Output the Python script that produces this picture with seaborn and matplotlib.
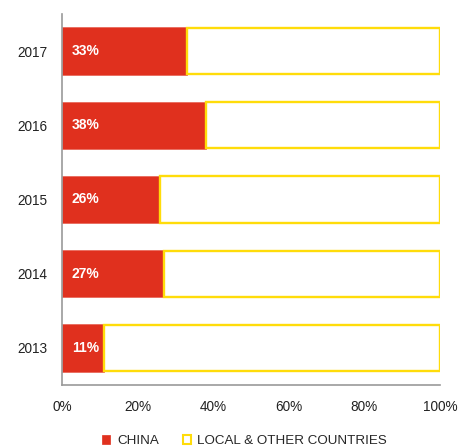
import matplotlib
matplotlib.use("Agg")
import matplotlib.pyplot as plt
from matplotlib.patches import Patch
from matplotlib.ticker import FixedLocator, PercentFormatter
import seaborn as sns
import pandas as pd

years = ["2017", "2016", "2015", "2014", "2013"]
china = [33, 38, 26, 27, 11]
series_names = ["CHINA", "LOCAL & OTHER COUNTRIES"]
x_ticks = [0, 20, 40, 60, 80, 100]

RED = "#E0301E"
YELLOW = "#FFDC0A"

sns.set_style("white")
plt.rcParams["font.family"] = ["Liberation Sans", "DejaVu Sans"]

df = pd.DataFrame({"year": years, "china": china})
df["local"] = 100 - df["china"]

fig = plt.figure(figsize=(4.69, 4.47), dpi=100)
ax = fig.add_axes([62/469, 1-385/447, (440-62)/469, (385-14)/447])

sns.barplot(data=df, x="china", y="year", order=years, orient="h",
            color=RED, saturation=1, width=0.64, edgecolor="#E86A5C",
            linewidth=0.6, ax=ax)
ax.barh(range(len(years)), df["local"], left=df["china"], height=0.62,
        color="white", edgecolor=YELLOW, linewidth=1.7)

for i, v in enumerate(df["china"]):
    ax.text(2.6, i, f"{v}%", color="white", fontweight="bold",
            fontsize=10, va="center", ha="left")

ax.set_xlim(0, 100)
ax.set_ylim(len(years) - 0.5, -0.5)
ax.xaxis.set_major_locator(FixedLocator(x_ticks))
ax.xaxis.set_major_formatter(PercentFormatter(decimals=0))
ax.set_xlabel("")
ax.set_ylabel("")

ax.yaxis.set_minor_locator(FixedLocator([i - 0.5 for i in range(len(years) + 1)]))
ax.tick_params(axis="y", which="major", length=0, pad=10.5, labelsize=9.8,
               labelcolor="#222222")
ax.tick_params(axis="y", which="minor", length=4, width=1, direction="in",
               color="#999999")
ax.tick_params(axis="x", length=0, pad=11, labelsize=9.8, labelcolor="#222222")

for s in ["top", "right"]:
    ax.spines[s].set_visible(False)
for s in ["left", "bottom"]:
    ax.spines[s].set_color("#999999")
    ax.spines[s].set_linewidth(1.2)

handles = [Patch(facecolor=RED, edgecolor=RED, linewidth=0.5),
           Patch(facecolor="white", edgecolor=YELLOW, linewidth=1.5)]
fig.legend(handles, series_names, loc="center", bbox_to_anchor=(0.522, 1-441/447),
           ncol=2, frameon=False, fontsize=9.6, handlelength=0.6,
           handleheight=0.6, handletextpad=0.5, columnspacing=1.8)

fig.savefig("out.png", dpi=100)
